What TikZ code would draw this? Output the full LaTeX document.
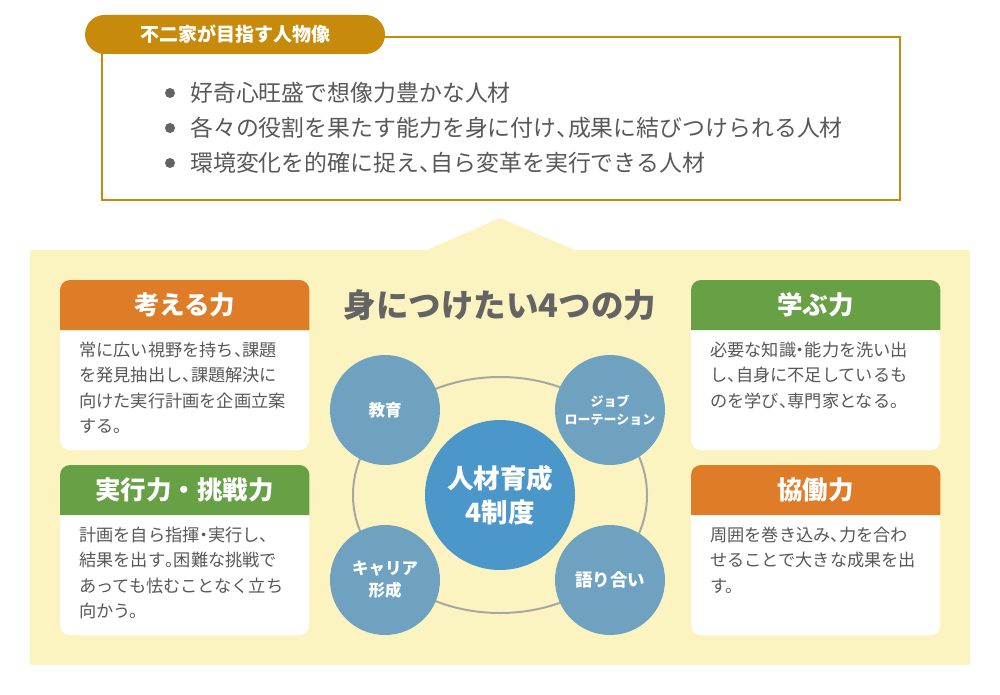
\documentclass[tikz,border=0pt]{standalone}
\usepackage{fontspec}
\setmainfont{Noto Sans CJK JP}
\usetikzlibrary{shapes.geometric}
\definecolor{goldc}{RGB}{200,138,10}
\definecolor{ybg}{RGB}{252,244,192}
\definecolor{orangec}{RGB}{222,124,40}
\definecolor{greenc}{RGB}{104,160,70}
\definecolor{txtgray}{RGB}{88,88,88}
\definecolor{titlegray}{RGB}{100,100,100}
\definecolor{smallc}{RGB}{111,161,193}
\definecolor{bigc}{RGB}{75,151,201}
\definecolor{ringc}{RGB}{168,168,160}
\newcommand\hcm{\makebox[0.5em][l]{、}}
\newcommand\hpd{\makebox[0.5em][l]{。}}
\newcommand\hdt{\makebox[0.5em][c]{・}}
\tikzset{
  cardbox/.style={fill=white, rounded corners=10pt, minimum width=249pt, minimum height=170pt, inner sep=0pt, anchor=north west},
  hdrtext/.style={text=white, font=\fontsize{25.5}{28}\selectfont\bfseries, inner sep=0pt},
  bodytext/.style={text=txtgray, font=\fontsize{17.2}{25.3}\selectfont, align=left, inner sep=0pt, anchor=north west},
  bullettext/.style={text=txtgray, font=\fontsize{22.9}{26}\selectfont, inner sep=0pt, anchor=west},
  bulletdot/.style={circle, fill=titlegray, minimum size=10pt, inner sep=0pt},
  smallcirc/.style={circle, fill=smallc, minimum size=110pt, inner sep=0pt, text=white, align=center, font=\fontsize{16.5}{22}\selectfont\bfseries},
  bigcirc/.style={circle, fill=bigc, minimum size=150pt, inner sep=0pt, text=white, align=center, font=\fontsize{26.5}{34}\selectfont\bfseries},
}
\newcommand\mkcard[6]{%
  \node[cardbox] (#1) at (#2,#3) {};
  \fill[#4] ([yshift=-50pt]#1.north west) [rounded corners=10pt] -- (#1.north west) -- (#1.north east) [sharp corners] -- ([yshift=-50pt]#1.north east) -- cycle;
  \node[hdrtext] (#1h) at ([yshift=-25pt]#1.north) {#5};
  \node[bodytext] (#1b) at ([xshift=19pt,yshift=-62pt]#1.north west) {#6};
}
\begin{document}
\begin{tikzpicture}[x=1pt,y=-1pt]
\useasboundingbox (0,0) rectangle (1000,695);
% top box
\node[draw=goldc, line width=2pt, minimum width=798pt, minimum height=163pt, inner sep=0pt, anchor=north west] (topbox) at (101,36) {};
\node[fill=goldc, rounded corners=19.5pt, minimum width=300pt, minimum height=39pt, inner sep=0pt, text=white, font=\fontsize{19}{22}\selectfont\bfseries] (pill) at (235,34.5) {不二家が目指す人物像};
\node[bulletdot] (d1) at (170,93) {};
\node[bulletdot] (d2) at (170,128) {};
\node[bulletdot] (d3) at (170,163) {};
\node[bullettext] (t1) at (190,93) {好奇心旺盛で想像力豊かな人材};
\node[bullettext] (t2) at (190,128) {各々の役割を果たす能力を身に付け\hcm 成果に結びつけられる人材};
\node[bullettext] (t3) at (190,163) {環境変化を的確に捉え\hcm 自ら変革を実行できる人材};
% yellow background
\fill[ybg] (30,665) -- (30,250) -- (427,250) -- (500,218) -- (575,250) -- (970,250) -- (970,665) -- cycle;
% cards
\mkcard{c1}{60}{280}{orangec}{考える力}{常に広い視野を持ち\hcm 課題\\を発見抽出し\hcm 課題解決に\\向けた実行計画を企画立案\\する。}
\mkcard{c2}{60}{465}{greenc}{実行力・挑戦力}{計画を自ら指揮\hdt 実行し\hcm\\結果を出す\hpd 困難な挑戦で\\あっても怯むことなく立ち\\向かう。}
\mkcard{c3}{691}{280}{greenc}{学ぶ力}{必要な知識\hdt 能力を洗い出\\し\hcm 自身に不足しているも\\のを学び\hcm 専門家となる。}
\mkcard{c4}{691}{465}{orangec}{協働力}{周囲を巻き込み\hcm 力を合わ\\せることで大きな成果を出\\す。}
% title
\node[text=titlegray, font=\fontsize{32.5}{36}\selectfont\bfseries, inner sep=0pt] (title) at (500,305) {身につけたい4つの力};
% ring and circles
\node[ellipse, draw=ringc, line width=2pt, minimum width=294pt, minimum height=236pt, inner sep=0pt] (ring) at (500,495) {};
\node[smallcirc] (kyoiku) at (385,410) {教育};
\node[smallcirc, font=\fontsize{13}{18}\selectfont\bfseries] (job) at (610,410) {ジョブ\\ローテーション};
\node[smallcirc] (career) at (385,580) {キャリア\\形成};
\node[smallcirc, font=\fontsize{17.5}{22}\selectfont\bfseries] (katari) at (610,580) {語り合い};
\node[bigcirc] (center) at (500,495) {人材育成\\4制度};
\end{tikzpicture}
\end{document}
